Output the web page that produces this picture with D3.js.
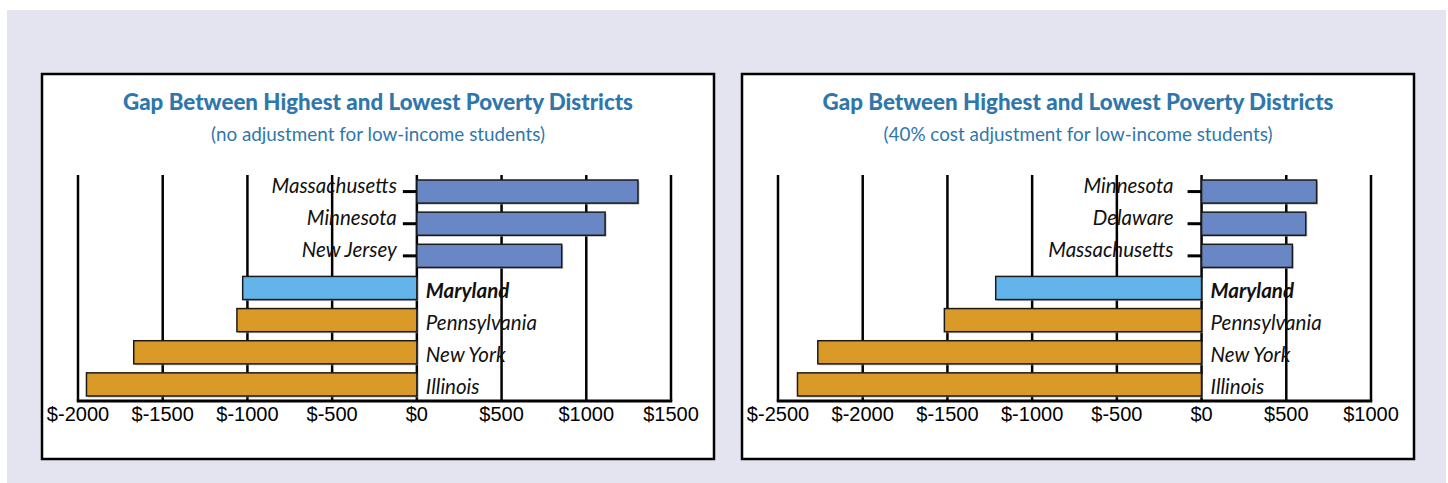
<!DOCTYPE html>
<html>
<head>
<meta charset="utf-8">
<script src="https://cdn.jsdelivr.net/npm/d3@7/dist/d3.min.js"></script>
<style>
  html, body { margin: 0; padding: 0; background: #ffffff; }
  svg { display: block; }
</style>
</head>
<body>
<svg id="chart" width="1448" height="483"></svg>
<script>
// ---- data ----
const leftCategories = ["Massachusetts", "Minnesota", "New Jersey", "Maryland", "Pennsylvania", "New York", "Illinois"];
const leftValues = [1305, 1111, 855, -1028, -1062, -1671, -1950];
const leftTicks = [-2000, -1500, -1000, -500, 0, 500, 1000, 1500];
const leftTitle = "Gap Between Highest and Lowest Poverty Districts";
const leftSubtitle = "(no adjustment for low-income students)";

const rightCategories = ["Minnesota", "Delaware", "Massachusetts", "Maryland", "Pennsylvania", "New York", "Illinois"];
const rightValues = [679, 615, 536, -1215, -1518, -2265, -2385];
const rightTicks = [-2500, -2000, -1500, -1000, -500, 0, 500, 1000];
const rightTitle = "Gap Between Highest and Lowest Poverty Districts";
const rightSubtitle = "(40% cost adjustment for low-income students)";

const highlight = "Maryland";

// ---- styles ----
const colAbove = "#6a87c5";
const colHighlight = "#62b4ea";
const colBelow = "#da9a27";
const titleColor = "#2f77ab";

const svg = d3.select("#chart");
svg.append("rect").attr("x", 7).attr("y", 10).attr("width", 1439).attr("height", 473).attr("fill", "#e4e4f0");

function panel(px, cats, vals, ticks, title, subtitle, opts) {
  const g = svg.append("g").attr("transform", `translate(${px},0)`);
  g.append("rect").attr("x", 0).attr("y", 74).attr("width", 672).attr("height", 385)
    .attr("fill", "#fff").attr("stroke", "#000").attr("stroke-width", 2.5);

  g.append("text").attr("x", 336).attr("y", 110).attr("text-anchor", "middle")
    .attr("font-family", "Lato, 'Open Sans', sans-serif").attr("font-weight", 900).attr("font-size", 23)
    .attr("fill", titleColor).attr("textLength", opts.titleLen).attr("lengthAdjust", "spacingAndGlyphs")
    .text(title);
  g.append("text").attr("x", 336).attr("y", 141).attr("text-anchor", "middle")
    .attr("font-family", "Lato, 'Open Sans', sans-serif").attr("font-size", 20)
    .attr("fill", titleColor).attr("textLength", opts.subLen).attr("lengthAdjust", "spacingAndGlyphs")
    .text(subtitle);

  const x = d3.scaleLinear().domain([ticks[0], ticks[ticks.length - 1]]).range([36, 629]);
  const y = d3.scaleBand().domain(cats).range([175.5, 400.5]).paddingInner(0.28).paddingOuter(0.14);
  const x0 = x(0);
  const yTop = 175, yBase = 401;

  // gridlines
  g.append("g").selectAll("line").data(ticks).join("line")
    .attr("x1", d => x(d)).attr("x2", d => x(d)).attr("y1", yTop).attr("y2", yBase)
    .attr("stroke", "#000").attr("stroke-width", 2.5);
  // baseline
  g.append("line").attr("x1", x(ticks[0]) - 1.25).attr("x2", x(ticks[ticks.length - 1]) + 1.25)
    .attr("y1", yBase).attr("y2", yBase).attr("stroke", "#000").attr("stroke-width", 3);

  // category axis ticks at zero
  const ax = g.append("g").attr("transform", `translate(${x0},0)`)
    .call(d3.axisLeft(y).tickSize(14).tickFormat(""));
  ax.select(".domain").remove();
  ax.selectAll(".tick line").attr("stroke", "#000").attr("stroke-width", 3);

  const data = cats.map((c, i) => ({ c, v: vals[i] }));
  // shadows
  g.append("g").selectAll("rect").data(data).join("rect")
    .attr("x", d => Math.min(x(d.v), x0) + 1.5).attr("y", d => y(d.c) + 1.5)
    .attr("width", d => Math.abs(x(d.v) - x0)).attr("height", y.bandwidth())
    .attr("fill", "#999").attr("opacity", 0.6);
  // bars
  g.append("g").selectAll("rect").data(data).join("rect")
    .attr("x", d => Math.min(x(d.v), x0)).attr("y", d => y(d.c))
    .attr("width", d => Math.abs(x(d.v) - x0)).attr("height", y.bandwidth())
    .attr("fill", d => d.c === highlight ? colHighlight : (d.v > 0 ? colAbove : colBelow))
    .attr("stroke", "#1a1a1a").attr("stroke-width", 1.5);

  // category labels
  g.append("g").selectAll("text").data(data).join("text")
    .attr("x", d => d.v > 0 ? x0 - opts.labelGap : x0 + 9)
    .attr("y", d => y(d.c) + y.bandwidth() / 2 + (d.v > 0 ? 1 : 9.5))
    .attr("text-anchor", d => d.v > 0 ? "end" : "start")
    .attr("font-family", "Lato, 'Open Sans', sans-serif").attr("font-style", "italic")
    .attr("font-weight", d => d.c === highlight ? "bold" : "normal")
    .attr("font-size", 20.5).attr("fill", "#111")
    .text(d => d.c);

  // value tick labels
  g.append("g").selectAll("text").data(ticks).join("text")
    .attr("x", d => x(d)).attr("y", 420.5).attr("text-anchor", "middle")
    .attr("font-family", "'Liberation Sans', Arial, sans-serif").attr("font-size", 20).attr("fill", "#000")
    .text(d => "$" + d);
}

panel(42, leftCategories, leftValues, leftTicks, leftTitle, leftSubtitle, { titleLen: 510, subLen: 334, labelGap: 20 });
panel(742, rightCategories, rightValues, rightTicks, rightTitle, rightSubtitle, { titleLen: 511, subLen: 389, labelGap: 28 });
</script>
</body>
</html>
